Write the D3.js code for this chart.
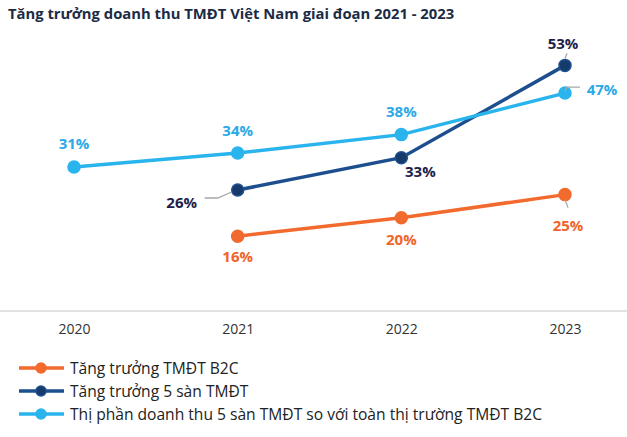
<!DOCTYPE html>
<html><head><meta charset="utf-8">
<script src="https://cdn.jsdelivr.net/npm/d3@7"></script>
<style>body{margin:0;background:#fff}svg{display:block;font-family:"Open Sans",sans-serif}</style>
</head><body><svg id="c" width="627" height="437"></svg>
<script>
const years = ["2020","2021","2022","2023"];
const b2c = [null,16,20,25];
const top5 = [null,26,33,53];
const share = [31,34,38,47];
const seriesNames = ["Tăng trưởng TMĐT B2C","Tăng trưởng 5 sàn TMĐT","Thị phần doanh thu 5 sàn TMĐT so với toàn thị trường TMĐT B2C"];

const svg = d3.select("#c");
const x = d3.scalePoint().domain(years).range([74,565]);
const y = d3.scaleLinear().domain([0,65]).range([310,10]);

svg.append("text").attr("x",8).attr("y",19).attr("font-size",14.8).attr("font-weight",700)
  .attr("fill","#1c2b45").text("Tăng trưởng doanh thu TMĐT Việt Nam giai đoạn 2021 - 2023");

// axis
const ax = svg.append("g").attr("transform","translate(0,311)")
  .call(d3.axisBottom(x).tickSize(0).tickPadding(13));
ax.select(".domain").remove();
svg.append("line").attr("x1",0).attr("x2",627).attr("y1",311).attr("y2",311).attr("stroke","#d9d9d9").attr("stroke-width",1.5);
ax.selectAll("text").attr("font-size",14).attr("fill","#333").attr("font-family","'Open Sans',sans-serif");

const series = [
  {vals:b2c, color:"#f26a2e", dot:"#f26a2e", lab:"#f0642a"},
  {vals:top5, color:"#1d4f8f", dot:"#163a6a", lab:"#1e1e4a"},
  {vals:share, color:"#2ab4ee", dot:"#2ab4ee", lab:"#2aa9e6"}
];
const line = d3.line().defined(d=>d.v!=null).x(d=>x(d.y)).y(d=>y(d.v));
series.forEach(s=>{
  const pts = years.map((yr,i)=>({y:yr,v:s.vals[i]}));
  svg.append("path").datum(pts).attr("d",line).attr("fill","none").attr("stroke",s.color).attr("stroke-width",3.5);
  svg.selectAll(null).data(pts.filter(d=>d.v!=null)).enter().append("circle")
    .attr("cx",d=>x(d.y)).attr("cy",d=>y(d.v)).attr("r",6).attr("fill",s.dot)
    .attr("stroke",s.color).attr("stroke-width",1.5);
});

// labels: [seriesIndex, yearIndex, dx, dy]
const labels = [
  [2,0,0,-23],[2,1,0,-23],[2,2,0,-23],[2,3,37,-4],
  [1,1,-56,12],[1,2,19,14],[1,3,-2,-22],
  [0,1,0,20],[0,2,0,22],[0,3,3,31]
];
labels.forEach(([si,yi,dx,dy])=>{
  const v = series[si].vals[yi];
  svg.append("text").attr("x",x(years[yi])+dx).attr("y",y(v)+dy+5.5)
    .attr("text-anchor","middle").attr("font-size",15).attr("font-weight",700)
    .attr("fill",series[si].lab).text(v+"%");
});
// leader lines
const leaders = [
  [1,1,[[-33,8],[-20,8],[-6,2]]],
  [1,3,[[0,-7],[2,-12]]],
  [2,3,[[0,-2],[2,-6],[15,-6]]],
  [0,3,[[0,5],[3,13]]]
];
leaders.forEach(([si,yi,offs])=>{
  const cx = x(years[yi]), cy = y(series[si].vals[yi]);
  svg.append("path").attr("d",d3.line()(offs.map(o=>[cx+o[0],cy+o[1]])))
    .attr("fill","none").attr("stroke","#a6a6a6").attr("stroke-width",1.3);
});

// legend
const legY=[368,391,414];
[0,1,2].forEach((si,k)=>{
  const g = svg.append("g").attr("transform",`translate(0,${legY[k]})`);
  g.append("line").attr("x1",19).attr("x2",64).attr("stroke",series[si].color).attr("stroke-width",3.5);
  g.append("circle").attr("cx",41).attr("r",5).attr("fill",series[si].dot).attr("stroke",series[si].color).attr("stroke-width",1.5);
  g.append("text").attr("x",70).attr("y",5.5).attr("font-size",15.6).attr("fill","#222").text(seriesNames[si]);
});
</script></body></html>
